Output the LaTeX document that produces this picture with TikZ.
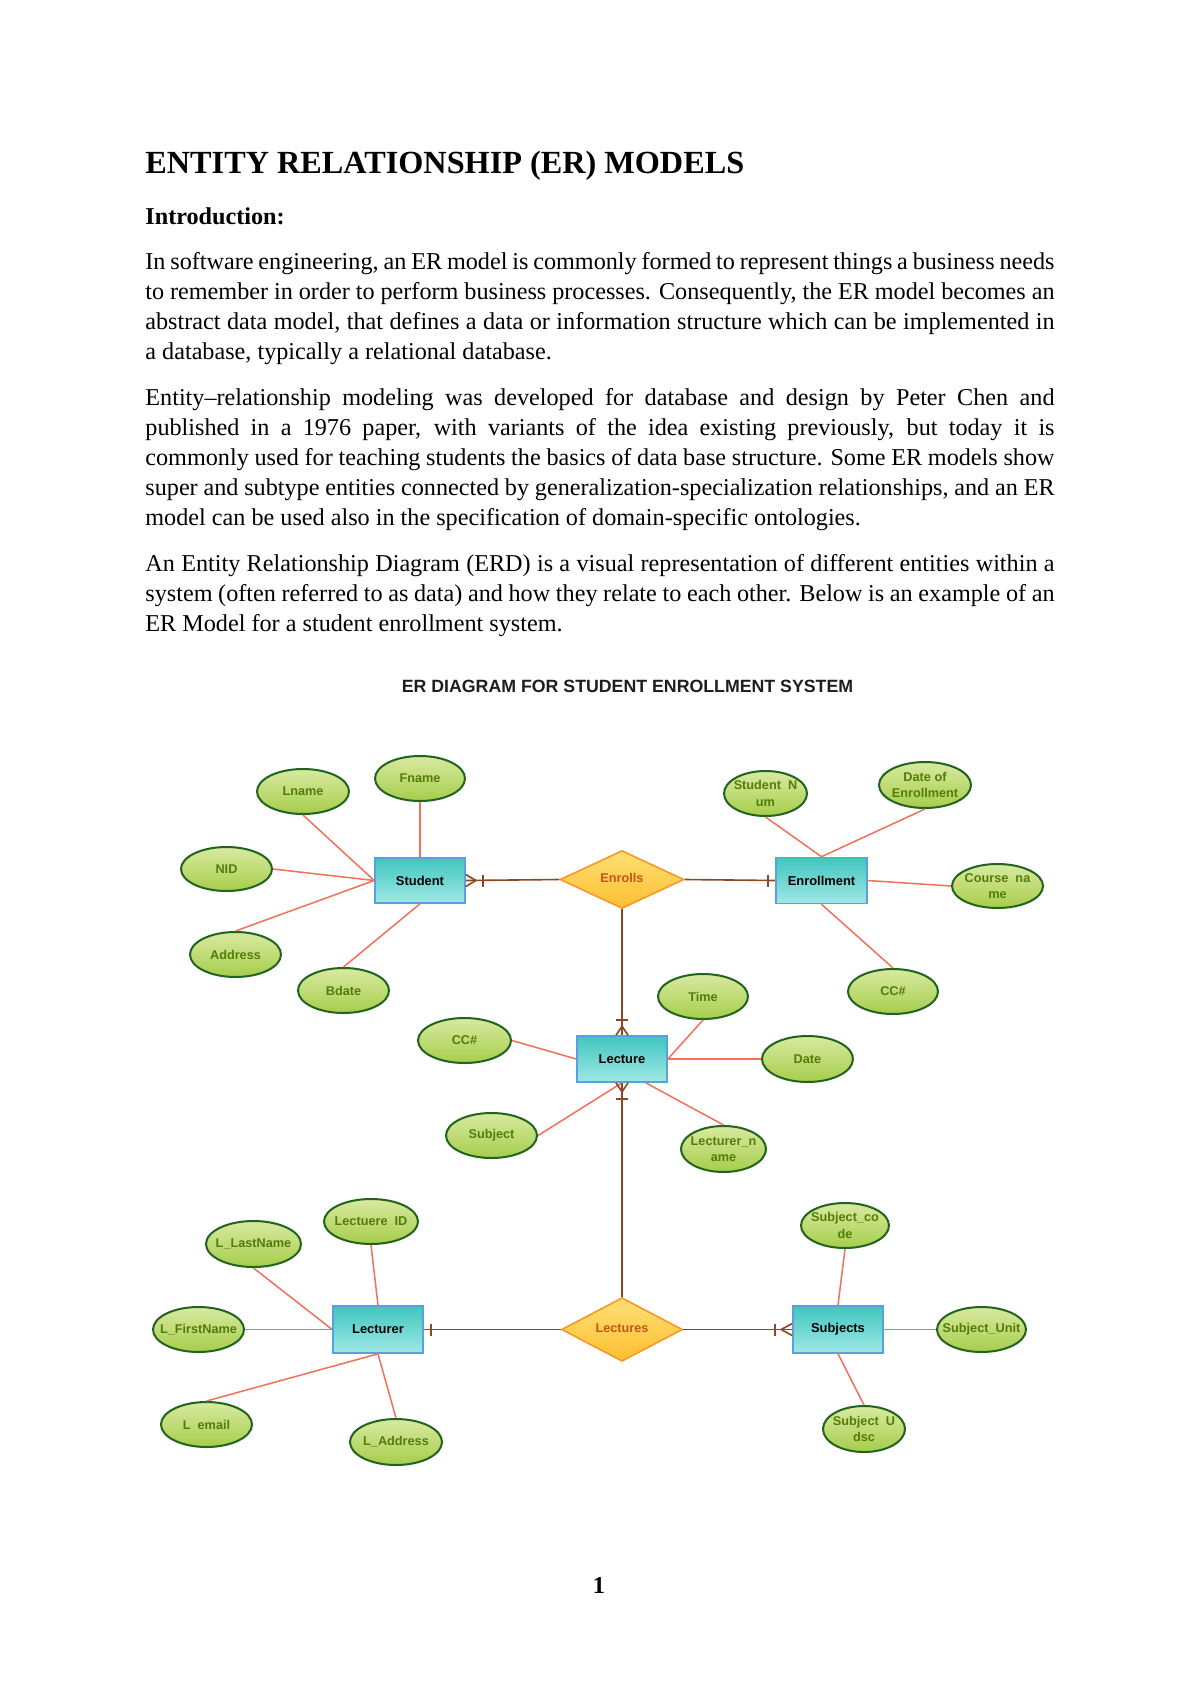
\documentclass[tikz,border=0pt]{standalone}
\usepackage{fontspec}
\setmainfont{Liberation Serif}
\newfontfamily\dsans{Liberation Sans}
\usetikzlibrary{shapes.geometric,calc}
\definecolor{attrB}{RGB}{34,100,30}
\definecolor{attrT}{RGB}{216,234,160}
\definecolor{attrBot}{RGB}{166,205,76}
\definecolor{attrTxt}{RGB}{84,124,8}
\definecolor{entB}{RGB}{88,160,222}
\definecolor{entT}{RGB}{64,198,190}
\definecolor{entBot}{RGB}{160,232,230}
\definecolor{relB}{RGB}{248,152,38}
\definecolor{relT}{RGB}{254,224,116}
\definecolor{relBot}{RGB}{252,190,50}
\definecolor{relTxt}{RGB}{196,86,22}
\definecolor{relLine}{RGB}{140,72,34}
\definecolor{attLine}{RGB}{242,112,92}
\def\px{*0.49606pt}
\tikzset{
  body/.style={anchor=base west, inner sep=0pt, font=\fontsize{12}{14.9}\selectfont},
  attr/.style={ellipse, draw=attrB, line width=1pt, top color=attrT, bottom color=attrBot, inner sep=0pt},
  attrtxt/.style={text=attrTxt, font=\dsans\bfseries\fontsize{6.3}{8.2}\selectfont, align=center, inner sep=0pt},
  entity/.style={rectangle, draw=entB, line width=0.8pt, top color=entT, bottom color=entBot, inner sep=0pt, text=black, font=\dsans\bfseries\fontsize{6.4}{8}\selectfont},
  relship/.style={diamond, draw=relB, line width=0.8pt, top color=relT, bottom color=relBot, inner sep=0pt, text=relTxt, font=\dsans\bfseries\fontsize{6.3}{8}\selectfont},
  attline/.style={draw=attLine, line width=0.75pt},
  relline/.style={draw=relLine, line width=0.8pt}
}
\newcommand\attrib[6]{%
  \node[attr, minimum width=#3\px, minimum height=#4\px] (#1) at (#2) {};
  \node[attrtxt] (#1t) at (#1.center) {#5#6};}
\newcommand\jl[1]{\makebox[451pt][s]{#1}}
\begin{document}
\begin{tikzpicture}[x=0.49606pt,y=-0.49606pt]
\useasboundingbox (0,0) rectangle (1200,1696);
\fill[white] (0,0) rectangle (1200,1696);

% ---------- text ----------
\node[body, font=\bfseries\fontsize{16}{18}\selectfont] (title) at (145,173) {ENTITY RELATIONSHIP (ER) MODELS};
\node[body, font=\bfseries\fontsize{12}{14.9}\selectfont] (intro) at (145,224) {Introduction:};

\node[body] (a1) at (145,269) {\jl{In software engineering, an ER model is commonly formed to represent things a business needs}};
\node[body] (a2) at (145,299) {\jl{to remember in order to perform business processes. Consequently, the ER model becomes an}};
\node[body] (a3) at (145,329) {\jl{abstract data model, that defines a data or information structure which can be implemented in}};
\node[body] (a4) at (145,359) {a database, typically a relational database.};

\node[body] (b1) at (145,405) {\jl{Entity–relationship modeling was developed for database and design by Peter Chen and}};
\node[body] (b2) at (145,435) {\jl{published in a 1976 paper, with variants of the idea existing previously, but today it is}};
\node[body] (b3) at (145,465) {\jl{commonly used for teaching students the basics of data base structure. Some ER models show}};
\node[body] (b4) at (145,495) {\jl{super and subtype entities connected by generalization-specialization relationships, and an ER}};
\node[body] (b5) at (145,525) {model can be used also in the specification of domain-specific ontologies.};

\node[body] (c1) at (145,571) {\jl{An Entity Relationship Diagram (ERD) is a visual representation of different entities within a}};
\node[body] (c2) at (145,601) {\jl{system (often referred to as data) and how they relate to each other. Below is an example of an}};
\node[body] (c3) at (145,631) {ER Model for a student enrollment system.};

\node[anchor=base, inner sep=0pt, text={rgb,255:red,30;green,30;blue,30}, font=\dsans\bfseries\fontsize{8.8}{10}\selectfont] (dtitle) at (627.5,692) {ER DIAGRAM FOR STUDENT ENROLLMENT SYSTEM};

\node[anchor=base, inner sep=0pt, font=\bfseries\fontsize{12}{14}\selectfont] (pnum) at (599,1593) {1};

% ---------- entities & relationships ----------
\node[entity, minimum width=90\px, minimum height=45\px] (student) at (420,880.5) {Student};
\node[entity, minimum width=91\px, minimum height=46\px] (enrollment) at (821.5,880.5) {Enrollment};
\node[entity, minimum width=90\px, minimum height=46\px] (lecture) at (622,1059) {Lecture};
\node[entity, minimum width=90\px, minimum height=47\px] (lecturer) at (378,1329.5) {Lecturer};
\node[entity, minimum width=90\px, minimum height=47\px] (subjects) at (838,1329.5) {Subjects};
\node[relship, minimum width=124\px, minimum height=58\px] (enrolls) at (622,879.5) {\raisebox{1.5pt}{Enrolls}};
\node[relship, minimum width=121\px, minimum height=62\px] (lectures) at (622,1329.5) {\raisebox{1pt}{Lectures}};

% ---------- attributes ----------
\attrib{lname}{303,791.5}{92}{45}{Lname}{}
\attrib{fname}{420,778.5}{90}{45}{Fname}{}
\attrib{nid}{226.5,869}{91}{44}{NID}{}
\attrib{address}{235.5,954.5}{91}{45}{Address}{}
\attrib{bdate}{343.5,990.5}{91}{45}{Bdate}{}
\attrib{stnum}{765.5,793.5}{83}{45}{Student\ \ N\\um}{}
\attrib{dateenr}{925,785}{92}{46}{Date of\\Enrollment}{}
\attrib{course}{997.5,886}{91}{44}{Course\ \ na\\me}{}
\attrib{ccone}{893,991.5}{90}{45}{CC\#}{}
\attrib{time}{703,996.5}{90}{45}{Time}{}
\attrib{cctwo}{464.5,1040.5}{93}{45}{CC\#}{}
\attrib{date}{807.5,1059}{91}{46}{Date}{}
\attrib{subject}{491.5,1135.5}{91}{45}{Subject}{}
\attrib{lecname}{723.5,1149}{85}{46}{Lecturer\_n\\ame}{}
\attrib{lectid}{371,1221.5}{94}{45}{Lectuere\ \ ID}{}
\attrib{llast}{253.5,1244}{95}{46}{L\_LastName}{}
\attrib{lfirst}{198.5,1329.5}{91}{45}{L\_FirstName}{}
\attrib{lemail}{206.5,1424.5}{91}{45}{L\ \ email}{}
\attrib{laddr}{396,1442}{92}{46}{L\_Address}{}
\attrib{subcode}{845,1225.5}{88}{45}{Subject\_co\\de}{}
\attrib{subunit}{981.5,1329.5}{89}{45}{Subject\_Unit}{}
\attrib{subdsc}{864,1429}{82}{46}{Subject\ \ U\\dsc}{}

% ---------- attribute connectors ----------
\draw[attline] (lname.south) -- (student.west);
\draw[attline] (fname.south) -- (student.north);
\draw[attline] (nid.east) -- (student.west);
\draw[attline] (address.north) -- (student.west);
\draw[attline] (bdate.north) -- (student.south);

\draw[attline] (stnum.south) -- (enrollment.north);
\draw[attline] (dateenr.south) -- (enrollment.north);
\draw[attline] (course.west) -- (enrollment.east);
\draw[attline] (ccone.north) -- (enrollment.south);

\draw[attline] (cctwo.east) -- (lecture.west);
\draw[attline] (time.south) -- (lecture.east);
\draw[attline] (date.west) -- (lecture.east);
\draw[attline] (subject.east) -- (lecture.south);
\draw[attline] (lecname.north) -- (lecture.-45);

\draw[attline] (lectid.south) -- (lecturer.north);
\draw[attline] (llast.south) -- (lecturer.west);
\draw[attline] (lfirst.east) -- (lecturer.west);
\draw[attline] (lemail.north) -- (lecturer.south);
\draw[attline] (laddr.north) -- (lecturer.south);

\draw[attline] (subcode.south) -- (subjects.north);
\draw[attline] (subunit.west) -- (subjects.east);
\draw[attline] (subdsc.north) -- (subjects.south);

% ---------- relationship connectors ----------
\draw[relline] (student.east) -- (enrolls.west);
\draw[relline] ($(student.east)+(0,-6)$) -- ($(student.east)+(10,0)$) -- ($(student.east)+(0,6)$);
\draw[relline] ($(student.east)+(17,-6)$) -- ($(student.east)+(17,6)$);

\draw[relline] (enrolls.east) -- (enrollment.west);
\draw[relline] ($(enrollment.west)+(-7,-6)$) -- ($(enrollment.west)+(-7,6)$);

\draw[relline] (enrolls.south) -- (lecture.north);
\draw[relline] ($(lecture.north)+(-6,0)$) -- ($(lecture.north)+(0,-9)$) -- ($(lecture.north)+(6,0)$);
\draw[relline] ($(lecture.north)+(-6,-15)$) -- ($(lecture.north)+(6,-15)$);

\draw[relline] (lectures.north) -- (lecture.south);
\draw[relline] ($(lecture.south)+(-6,0)$) -- ($(lecture.south)+(0,9)$) -- ($(lecture.south)+(6,0)$);
\draw[relline] ($(lecture.south)+(-6,16)$) -- ($(lecture.south)+(6,16)$);

\draw[relline] (lecturer.east) -- (lectures.west);
\draw[relline] ($(lecturer.east)+(7,-6)$) -- ($(lecturer.east)+(7,6)$);

\draw[relline] (lectures.east) -- (subjects.west);
\draw[relline] ($(subjects.west)+(0,-6)$) -- ($(subjects.west)+(-11,0)$) -- ($(subjects.west)+(0,6)$);
\draw[relline] ($(subjects.west)+(-17,-6)$) -- ($(subjects.west)+(-17,6)$);
\end{tikzpicture}
\end{document}
